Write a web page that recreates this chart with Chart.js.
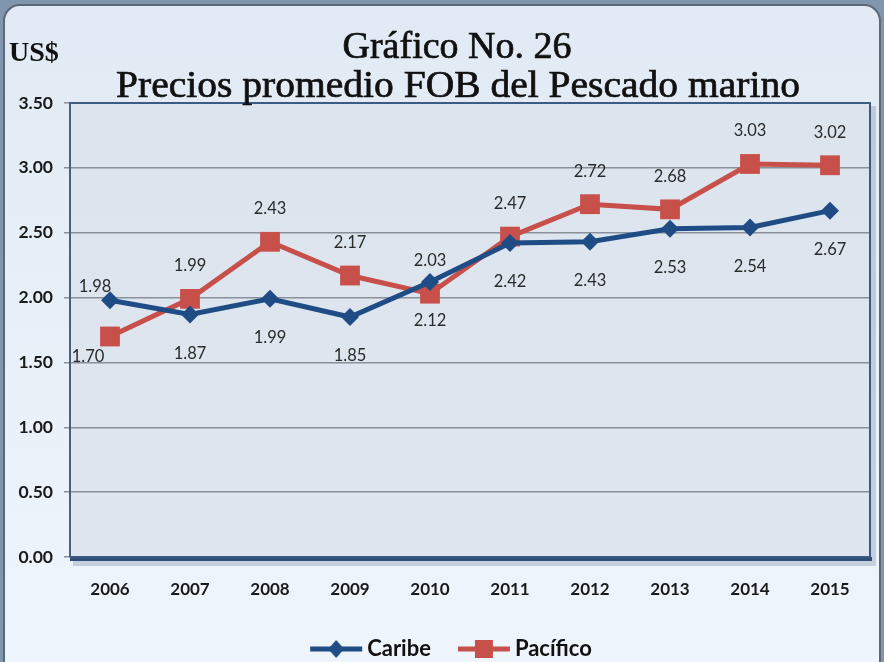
<!DOCTYPE html>
<html><head><meta charset="utf-8">
<script src="https://cdn.jsdelivr.net/npm/chart.js@4.4.0/dist/chart.umd.min.js"></script>
<style>html,body{margin:0;padding:0;background:#e9f1fa;overflow:hidden}canvas{display:block}</style>
</head><body>
<canvas id="c" width="884" height="662"></canvas>
<script>
// ---- data ----
const years = ['2006','2007','2008','2009','2010','2011','2012','2013','2014','2015'];
const caribe = [1.98, 1.87, 1.99, 1.85, 2.12, 2.42, 2.43, 2.53, 2.54, 2.67];
const pacifico = [1.70, 1.99, 2.43, 2.17, 2.03, 2.47, 2.72, 2.68, 3.03, 3.02];
const seriesNames = ['Caribe', 'Pacífico'];
const titleLines = ['Gráfico No. 26', 'Precios promedio FOB del Pescado marino'];
const unitLabel = 'US$';
const yMin = 0, yMax = 3.5, yStep = 0.5;
// label placement per point (style, not data)
const caribeLabelPos = ['aboveLeft','below','below','below','below','below','below','below','below','below'];
const pacificoLabelPos = ['belowLeft','above','above','above','above','above','above','above','above','above'];

const BLUE = '#1f4c85', RED = '#c8504a';
const CHART_W = 884, CHART_H = 662;

function legendIcon(color, style) {
  const c = document.createElement('canvas');
  c.width = 54; c.height = 22;
  const x = c.getContext('2d');
  x.strokeStyle = color; x.lineWidth = 5;
  x.beginPath(); x.moveTo(1, 11); x.lineTo(53, 11); x.stroke();
  x.fillStyle = color;
  if (style === 'diamond') {
    x.beginPath(); x.moveTo(27, 2); x.lineTo(35, 11); x.lineTo(27, 20); x.lineTo(19, 11); x.closePath(); x.fill();
  } else {
    x.fillRect(18, 2, 18, 18);
  }
  return c;
}
const icons = [legendIcon(BLUE, 'diamond'), legendIcon(RED, 'square')];

function titleText(ctx, text, cx, y, sx) {
  ctx.save();
  ctx.translate(cx, y);
  ctx.scale(sx, 1);
  ctx.fillText(text, 0, 0);
  ctx.strokeText(text, 0, 0);
  ctx.restore();
}

const decoPlugin = {
  id: 'deco',
  afterLayout(chart) {
    const l = chart.legend;
    if (l) { l.left += 18; l.right += 18; }
  },
  beforeDraw(chart) {
    const { ctx, chartArea: a } = chart;
    ctx.save();
    ctx.fillStyle = '#8095ae';
    ctx.fillRect(0, 0, CHART_W, CHART_H);
    const g = ctx.createLinearGradient(0, 0, 0, CHART_H);
    g.addColorStop(0, '#e1eaf4');
    g.addColorStop(1, '#eff5fc');
    ctx.beginPath();
    ctx.roundRect(4, 5, 876, 700, 16);
    ctx.fillStyle = g; ctx.fill();
    ctx.lineWidth = 2; ctx.strokeStyle = '#5d6977'; ctx.stroke();
    // plot shadow
    ctx.fillStyle = 'rgba(50,80,120,0.22)';
    ctx.fillRect(a.left + 3, a.top + 3, a.width + 3, a.height + 6);
    ctx.fillStyle = '#2f4f79';
    ctx.fillRect(a.left, a.bottom, a.width + 2, 4);
    // plot fill
    const pg = ctx.createLinearGradient(0, a.top, 0, a.bottom);
    pg.addColorStop(0, '#dce4ee'); pg.addColorStop(1, '#dfe6ef');
    ctx.fillStyle = pg;
    ctx.fillRect(a.left, a.top, a.width, a.height);
    ctx.restore();
  },
  beforeDatasetsDraw(chart) {
    const { ctx, chartArea: a } = chart;
    ctx.save();
    ctx.strokeStyle = '#3b5b82'; ctx.lineWidth = 2;
    ctx.beginPath();
    ctx.moveTo(a.left, a.top); ctx.lineTo(a.right, a.top); ctx.lineTo(a.right, a.bottom);
    ctx.lineTo(a.left, a.bottom);
    ctx.stroke();
    ctx.restore();
  },
  afterDatasetsDraw(chart) {
    const { ctx } = chart;
    ctx.save();
    ctx.font = '16.5px Lato';
    ctx.fillStyle = '#2a2a2a';
    ctx.textAlign = 'center';
    ctx.textBaseline = 'middle';
    const sets = [[caribe, caribeLabelPos], [pacifico, pacificoLabelPos]];
    sets.forEach(([vals, pos], di) => {
      const meta = chart.getDatasetMeta(di);
      meta.data.forEach((pt, i) => {
        let dx = 0, dy = 0;
        switch (pos[i]) {
          case 'above': dy = -33; break;
          case 'below': dy = 39; break;
          case 'aboveLeft': dx = -15; dy = -13; break;
          case 'belowLeft': dx = -22; dy = 20; break;
        }
        ctx.fillText(vals[i].toFixed(2), pt.x + dx, pt.y + dy);
      });
    });
    ctx.restore();
  },
  afterDraw(chart) {
    const { ctx } = chart;
    ctx.save();
    ctx.fillStyle = '#111';
    ctx.strokeStyle = '#111';
    ctx.lineWidth = 0.7;
    ctx.textAlign = 'center';
    ctx.textBaseline = 'alphabetic';
    ctx.font = '38px "Liberation Serif"';
    titleText(ctx, titleLines[0], 457, 58, 1);
    titleText(ctx, titleLines[1], 458, 97, 1.04);
    ctx.textAlign = 'left';
    ctx.font = 'bold 28px "Liberation Serif"';
    ctx.fillText(unitLabel, 9, 61);
    ctx.restore();
  }
};

new Chart(document.getElementById('c'), {
  type: 'line',
  data: {
    labels: years,
    datasets: [
      { label: seriesNames[0], data: caribe, borderColor: BLUE, backgroundColor: BLUE,
        borderWidth: 5, pointStyle: 'rectRot', pointRadius: 9, pointHoverRadius: 9,
        pointBackgroundColor: BLUE, pointBorderColor: BLUE, pointBorderWidth: 0, tension: 0 },
      { label: seriesNames[1], data: pacifico, borderColor: RED, backgroundColor: RED,
        borderWidth: 5, pointStyle: 'rect', pointRadius: 14, pointHoverRadius: 14,
        pointBackgroundColor: RED, pointBorderColor: RED, pointBorderWidth: 0, tension: 0 }
    ]
  },
  options: {
    responsive: false,
    animation: false,
    events: [],
    layout: { padding: { top: 103, left: 0, right: 12, bottom: -8 } },
    plugins: {
      title: { display: false },
      tooltip: { enabled: false },
      legend: {
        position: 'bottom',
        labels: {
          usePointStyle: true,
          pointStyleWidth: 40,
          padding: 33,
          color: '#111',
          font: { family: 'Lato', size: 22, weight: 'bold' },
          generateLabels(chart) {
            return chart.data.datasets.map((ds, i) => ({
              text: ds.label, pointStyle: icons[i], fillStyle: ds.borderColor,
              strokeStyle: ds.borderColor, lineWidth: 0, hidden: false, datasetIndex: i, fontColor: '#111'
            }));
          }
        }
      }
    },
    scales: {
      x: {
        offset: true,
        grid: { display: false, drawTicks: false },
        border: { display: false },
        ticks: { color: '#1a1a1a', padding: 22, font: { family: 'Lato', size: 17, weight: 'bold' } },
        afterFit(s) { s.height = 48; }
      },
      y: {
        min: yMin, max: yMax,
        ticks: { stepSize: yStep, color: '#1a1a1a', padding: 11,
          font: { family: 'Lato', size: 17.5, weight: 'bold' },
          callback: v => Number(v).toFixed(2) },
        grid: { color: '#8a9099', lineWidth: 1.5, tickLength: 6, drawTicks: true },
        border: { display: true, color: '#4a5f7a', width: 2 },
        afterFit(s) { s.width = 70; }
      }
    }
  },
  plugins: [decoPlugin]
});
</script>
</body></html>
